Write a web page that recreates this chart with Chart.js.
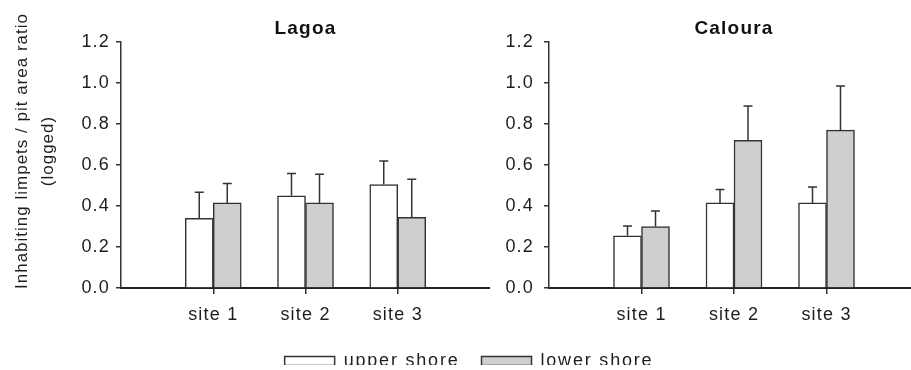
<!DOCTYPE html>
<html>
<head>
<meta charset="utf-8">
<title>Inhabiting limpets / pit area ratio</title>
<script src="https://cdn.jsdelivr.net/npm/chart.js@4.4.1/dist/chart.umd.min.js"></script>
<style>
  html, body { margin: 0; padding: 0; background: #fff; width: 911px; height: 370px; overflow: hidden; }
  .panel { position: absolute; }
  canvas { display: block; }
</style>
</head>
<body>
<div class="panel" style="left:0;top:0;width:490px;height:370px"><canvas id="lagoa" width="490" height="370"></canvas></div>
<div class="panel" style="left:495px;top:0;width:424px;height:370px"><canvas id="caloura" width="424" height="370"></canvas></div>
<div class="panel" style="left:219px;top:330px;width:500px;height:70px"><canvas id="key" width="500" height="70"></canvas></div>
<script>
// Categories, series names and axis ticks
const sites = ['site 1', 'site 2', 'site 3'];
const seriesNames = ['upper shore', 'lower shore'];
const yTickValues = [0, 0.2, 0.4, 0.6, 0.8, 1.0, 1.2];
const yAxisTitle = ['Inhabiting limpets / pit area ratio', '(logged)'];

// Lagoa: means and standard errors
const lagoaUpper = [0.34, 0.45, 0.505];
const lagoaUpperErr = [0.127, 0.108, 0.115];
const lagoaLower = [0.415, 0.415, 0.345];
const lagoaLowerErr = [0.095, 0.14, 0.185];

// Caloura: means and standard errors
const calouraUpper = [0.255, 0.415, 0.415];
const calouraUpperErr = [0.047, 0.065, 0.078];
const calouraLower = [0.30, 0.72, 0.77];
const calouraLowerErr = [0.076, 0.168, 0.215];

const FONT = "'Liberation Sans', Arial, Helvetica, sans-serif";
const INK = '#1e1e1e';
const EDGE = '#333';
const WHITE = '#ffffff';
const GREY = '#cfcfcf';

// Empty slots at both ends so the sites sit on the inner ticks of the axis
const labels = ['', ...sites, ''];
const pad = a => [null, ...a, null];

// Letter spacing for the canvas text; axis titles get their own spacing and shift
const spacing = {
  id: 'spacing',
  beforeLayout(chart, args, opts) {
    chart.ctx.letterSpacing = opts.base || '0px';
  },
  beforeDraw(chart, args, opts) {
    chart.ctx.letterSpacing = opts.base || '0px';
    Object.values(chart.scales).forEach(s => {
      if (s.$spaced) return;
      const drawTitle = s.drawTitle;
      s.drawTitle = function () {
        const c = this.ctx;
        c.save();
        c.letterSpacing = opts.axisTitle || c.letterSpacing;
        c.translate(0, opts.axisTitleShift || 0);
        drawTitle.apply(this, arguments);
        c.restore();
      };
      s.$spaced = true;
    });
  }
};

// One-sided (upward) error bars with a short cap
const errorBars = {
  id: 'errorBars',
  afterDatasetsDraw(chart) {
    const { ctx } = chart;
    const y = chart.scales.y;
    chart.data.datasets.forEach((ds, di) => {
      const meta = chart.getDatasetMeta(di);
      meta.data.forEach((bar, i) => {
        const v = ds.data[i];
        const e = ds.errors ? ds.errors[i] : null;
        if (v == null || e == null) return;
        const top = y.getPixelForValue(v + e);
        ctx.save();
        ctx.strokeStyle = EDGE;
        ctx.lineWidth = 1.5;
        ctx.beginPath();
        ctx.moveTo(bar.x, bar.y);
        ctx.lineTo(bar.x, top);
        ctx.moveTo(bar.x - 4.5, top);
        ctx.lineTo(bar.x + 4.5, top);
        ctx.stroke();
        ctx.restore();
      });
    });
  }
};

function panel(id, title, upper, upperErr, lower, lowerErr, yWidth, tickPad, showAxisTitle) {
  return new Chart(document.getElementById(id), {
    type: 'bar',
    data: {
      labels,
      datasets: [
        { label: seriesNames[0], data: pad(upper), errors: pad(upperErr),
          backgroundColor: WHITE, borderColor: EDGE, borderWidth: 1.5, barThickness: 28 },
        { label: seriesNames[1], data: pad(lower), errors: pad(lowerErr),
          backgroundColor: GREY, borderColor: EDGE, borderWidth: 1.5, barThickness: 28 }
      ]
    },
    options: {
      responsive: false,
      animation: false,
      layout: { padding: 0 },
      scales: {
        x: {
          type: 'category',
          offset: false,
          grid: {
            display: true,
            offset: false,
            drawOnChartArea: false,
            drawTicks: true,
            tickLength: 6,
            lineWidth: 1.5,
            color: 'rgba(0,0,0,0)',
            tickColor: c => (c.index > 0 && c.index < labels.length - 1) ? EDGE : 'rgba(0,0,0,0)'
          },
          border: { display: true, color: '#222', width: 2 },
          ticks: { padding: 10, color: INK, autoSkip: false, maxRotation: 0,
                   font: { size: 18, family: FONT } },
          afterFit: s => { s.height = 82; s.paddingLeft = 0; s.paddingRight = 0; }
        },
        y: {
          min: 0,
          max: 1.2,
          afterBuildTicks: s => { s.ticks = yTickValues.map(v => ({ value: v })); },
          ticks: { padding: tickPad, color: INK, callback: v => Number(v).toFixed(1),
                   font: { size: 18, family: FONT } },
          grid: { drawOnChartArea: false, tickLength: 5, lineWidth: 1.5, color: EDGE },
          border: { display: true, color: EDGE, width: 1.5 },
          title: {
            display: showAxisTitle,
            text: yAxisTitle,
            color: INK,
            font: { size: 17, family: FONT, lineHeight: 1.55 },
            padding: { top: 9, bottom: 0 }
          },
          afterFit: s => { s.width = yWidth; }
        }
      },
      plugins: {
        legend: { display: false },
        tooltip: { enabled: false },
        title: {
          display: true,
          fullSize: false,
          text: title,
          color: '#111',
          font: { size: 19, weight: 'bold', family: FONT },
          padding: { top: 17.5, bottom: 1.7 }
        },
        spacing: { base: '1.2px', axisTitle: '1px', axisTitleShift: -14 }
      }
    },
    plugins: [spacing, errorBars]
  });
}

panel('lagoa', 'Lagoa', lagoaUpper, lagoaUpperErr, lagoaLower, lagoaLowerErr, 121, 6, true);
panel('caloura', 'Caloura', calouraUpper, calouraUpperErr, calouraLower, calouraLowerErr, 54, 10, false);

// Shared key for both panels
new Chart(document.getElementById('key'), {
  type: 'bar',
  data: {
    labels: [],
    datasets: [
      { label: seriesNames[0], data: [], backgroundColor: WHITE, borderColor: EDGE, borderWidth: 1.5 },
      { label: seriesNames[1], data: [], backgroundColor: GREY, borderColor: EDGE, borderWidth: 1.5 }
    ]
  },
  options: {
    responsive: false,
    animation: false,
    layout: { padding: 0 },
    scales: { x: { display: false }, y: { display: false } },
    plugins: {
      tooltip: { enabled: false },
      legend: {
        position: 'top',
        labels: { boxWidth: 50, boxHeight: 9, padding: 22, color: INK,
                  font: { size: 18, family: FONT } }
      },
      spacing: { base: '1.8px' }
    }
  },
  plugins: [spacing]
});
</script>
</body>
</html>
